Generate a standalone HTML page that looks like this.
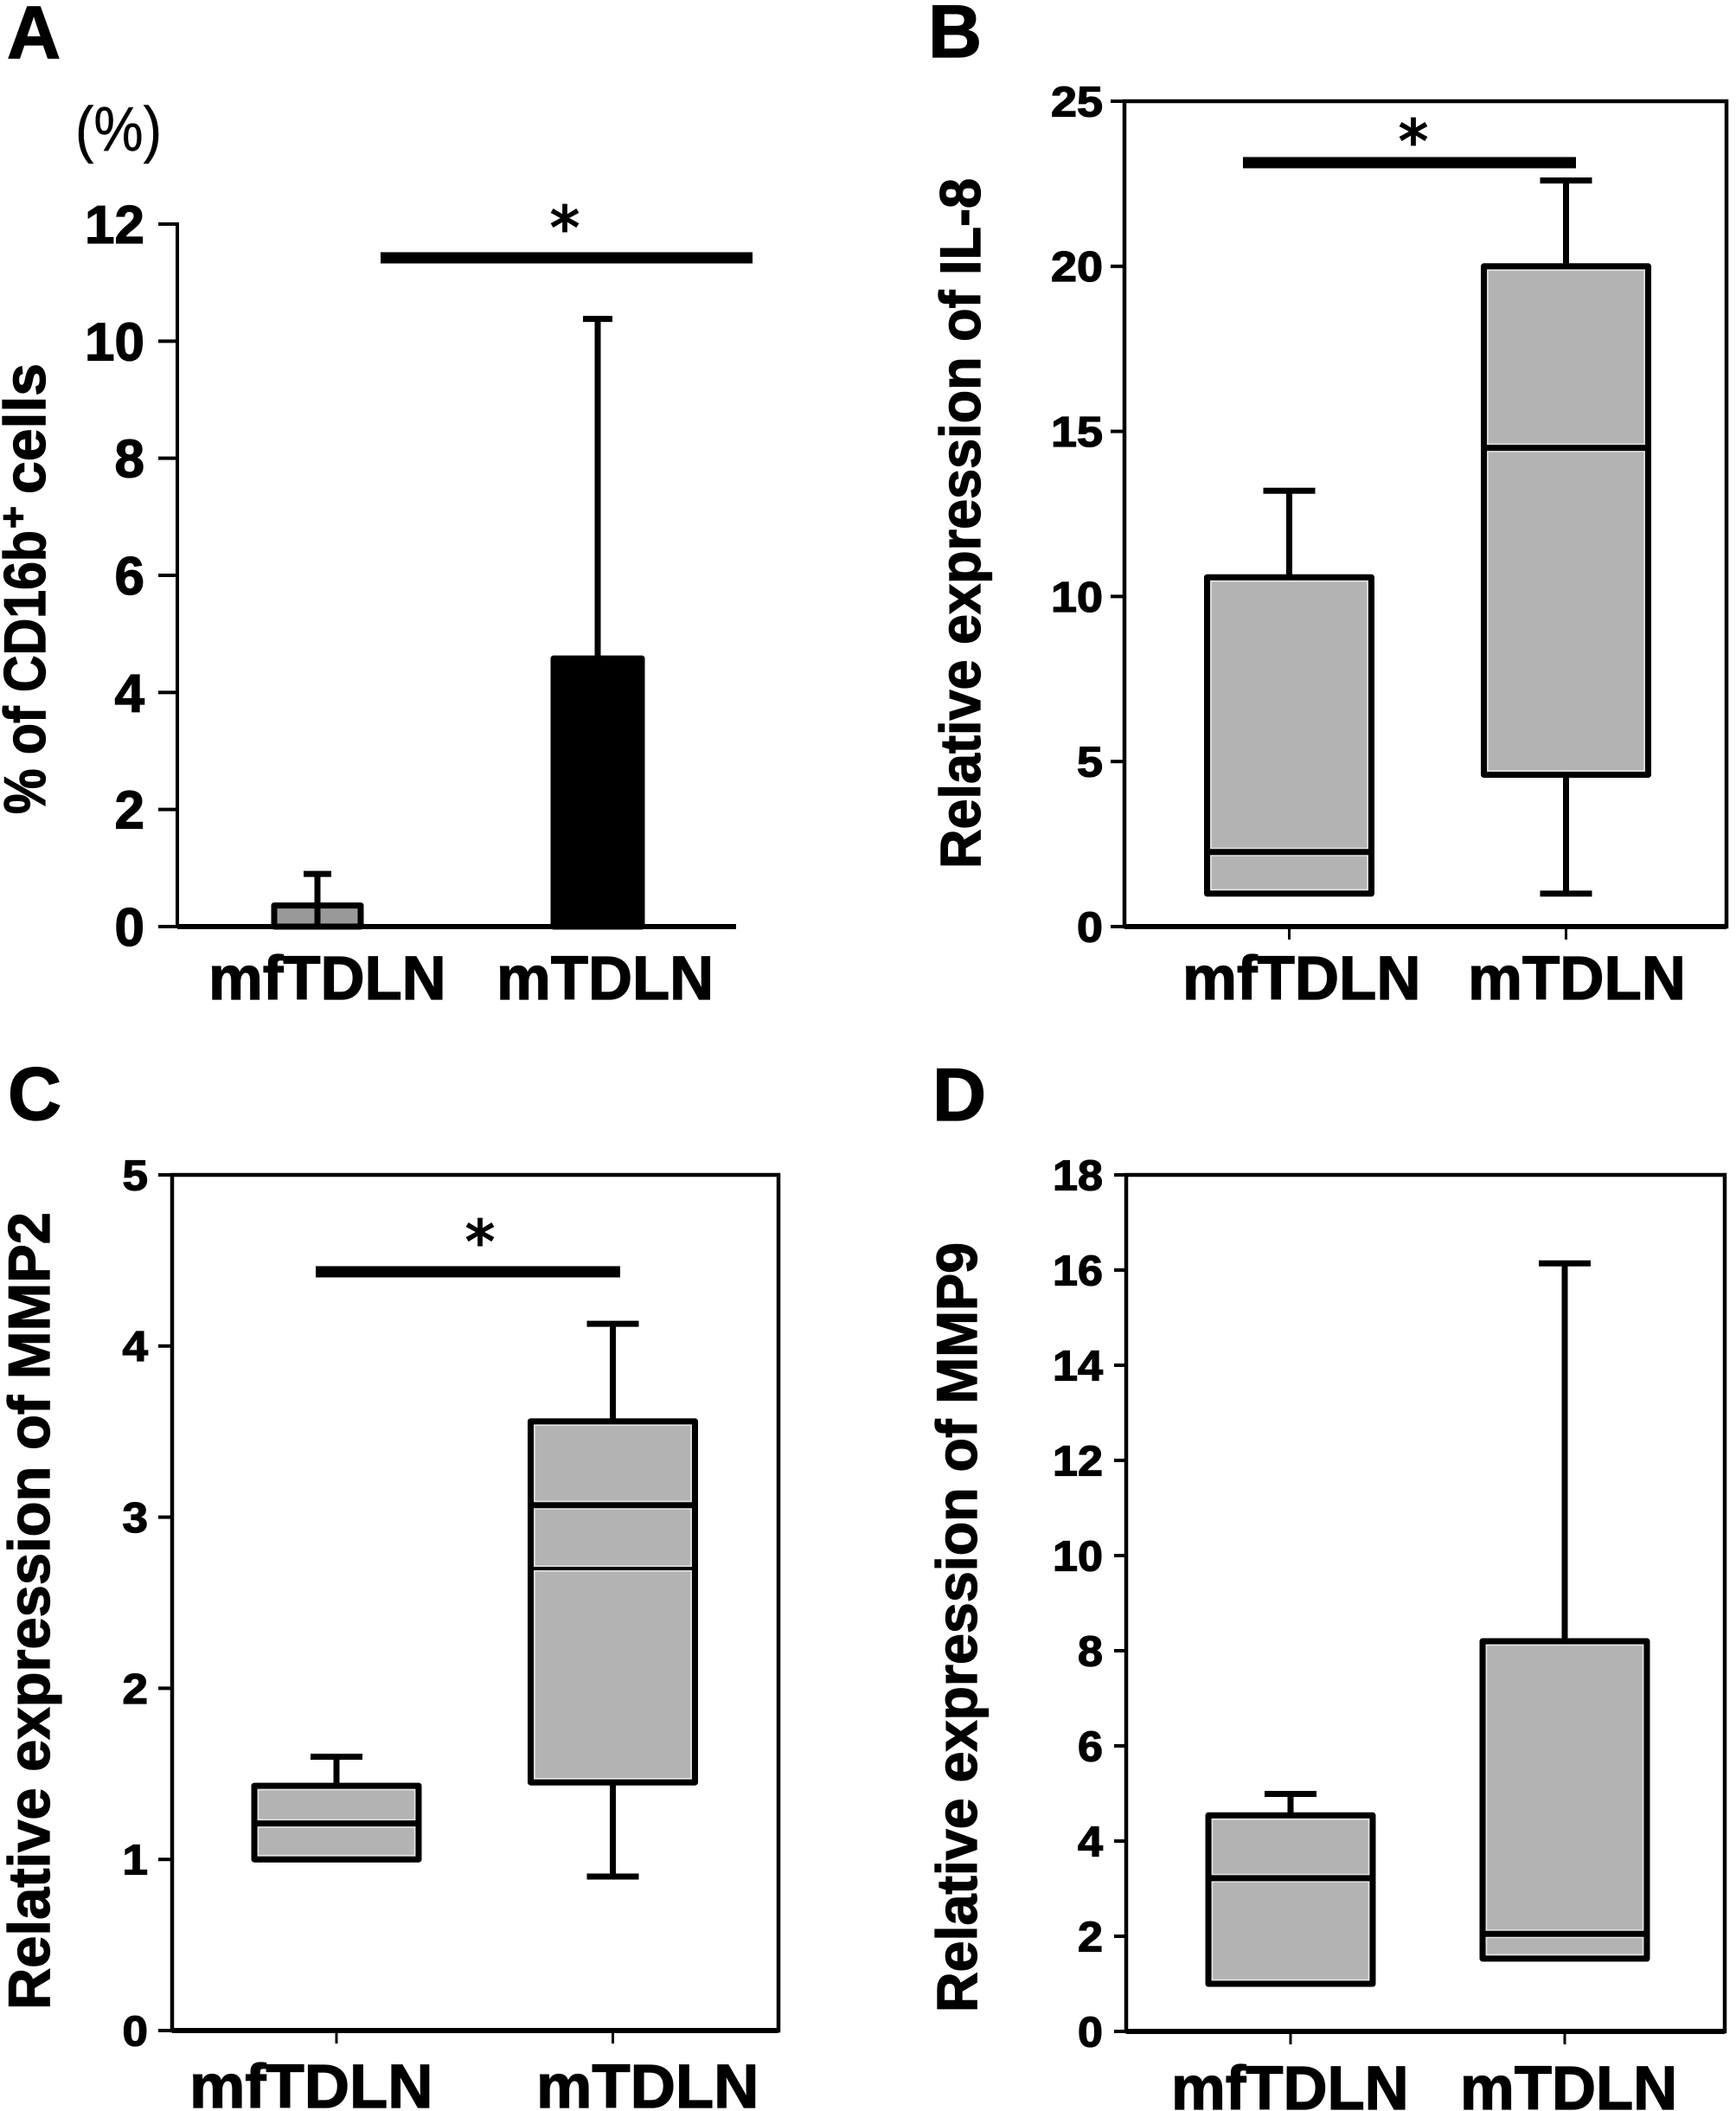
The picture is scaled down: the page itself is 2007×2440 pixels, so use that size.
<!DOCTYPE html>
<html lang="en">
<head>
<meta charset="utf-8">
<title>Four-panel figure: CD16b, IL-8, MMP2 and MMP9 in mfTDLN and mTDLN</title>
<style>
html,body{margin:0;padding:0;background:#fff;}
svg{display:block;}
text{font-family:"Liberation Sans",sans-serif;font-weight:700;fill:#000;stroke:#000;stroke-width:1.3px;}
</style>
</head>
<body>
<svg id="figure" xmlns="http://www.w3.org/2000/svg" width="2007" height="2440" viewBox="0 0 2007 2440">
  <rect x="0" y="0" width="2007" height="2440" fill="#fff"/>
  <text x="8" y="67" font-size="86">A</text>
  <text x="1073" y="66" font-size="86">B</text>
  <text x="9" y="1294" font-size="86">C</text>
  <text x="1078" y="1295" font-size="86">D</text>

  <text x="87" y="174" font-size="72" textLength="100" lengthAdjust="spacingAndGlyphs" style="font-weight:400;stroke-width:0.5px">(%)</text>

  <g transform="translate(52,941) rotate(-90)">
    <text x="0" y="0" font-size="68" textLength="328" lengthAdjust="spacingAndGlyphs">% of CD16b</text>
    <text x="330" y="-22" font-size="44" textLength="26" lengthAdjust="spacingAndGlyphs">+</text>
    <text x="370" y="0" font-size="68" textLength="151" lengthAdjust="spacingAndGlyphs">cells</text>
  </g>
  <text transform="translate(1133,1004) rotate(-90)" font-size="66" textLength="798" lengthAdjust="spacingAndGlyphs">Relative expression of IL-8</text>
  <text transform="translate(57,2323) rotate(-90)" font-size="68" textLength="922" lengthAdjust="spacingAndGlyphs">Relative expression of MMP2</text>
  <text transform="translate(1129,2326) rotate(-90)" font-size="66" textLength="890" lengthAdjust="spacingAndGlyphs">Relative expression of MMP9</text>
</svg>
<script>
// Shared category labels
const categories = ['mfTDLN', 'mTDLN'];

// Panel A: bars with upper error bars
const aTicks = [0, 2, 4, 6, 8, 10, 12];
const aMeans = [0.36, 4.58];
const aUpper = [0.9, 10.38];

// Panel B: IL-8 box plot
const bTicks = [0, 5, 10, 15, 20, 25];
const bLow = [1.0, 1.0];
const bQ1 = [1.0, 4.6];
const bMedian = [2.26, 14.5];
const bQ3 = [10.58, 20.0];
const bHigh = [13.2, 22.6];

// Panel C: MMP2 box plot
const cTicks = [0, 1, 2, 3, 4, 5];
const cLow = [1.0, 0.9];
const cQ1 = [1.0, 1.45];
const cMedian = [1.21, 3.07];
const cMean = [null, 2.7];
const cQ3 = [1.43, 3.56];
const cHigh = [1.6, 4.13];

// Panel D: MMP9 box plot
const dTicks = [0, 2, 4, 6, 8, 10, 12, 14, 16, 18];
const dLow = [1.0, 1.53];
const dQ1 = [1.0, 1.53];
const dMedian = [3.22, 2.05];
const dQ3 = [4.54, 8.2];
const dHigh = [4.99, 16.14];

const svg = document.getElementById('figure');
const NS = 'http://www.w3.org/2000/svg';

function mk(tag, attrs, parent) {
  const el = document.createElementNS(NS, tag);
  for (const k in attrs) el.setAttribute(k, attrs[k]);
  (parent || svg).appendChild(el);
  return el;
}
function seg(parent, x1, y1, x2, y2, w) {
  return mk('line', {x1, y1, x2, y2, stroke: '#000', 'stroke-width': w}, parent);
}
function makeY(p) {
  return v => p.bottom - (v / p.yMax) * (p.bottom - p.top);
}
function makeX(p) {
  return i => p.cx0 + i * p.step;
}

function drawYAxis(g, p, ticks, y) {
  ticks.forEach(t => {
    const tick = seg(g, p.tickLeft, y(t), p.left, y(t), 4);
    
    
    const label = mk('text', {
      x: p.tickRight - String(t).length * p.digitW,
      y: y(t) + p.tickFont * 0.355,
      'font-size': p.tickFont,
      textLength: String(t).length * p.digitW,
      lengthAdjust: 'spacingAndGlyphs'
    }, g);
    label.textContent = String(t);
    
    
  });
}

function drawXLabels(g, p) {
  categories.forEach((c, i) => {
    const label = mk('text', {
      x: p.labelX + i * p.labelStep,
      y: p.labelY,
      'font-size': 71
    }, g);
    label.textContent = c;
    const natural = label.getComputedTextLength();
    label.setAttribute('textLength', natural * p.labelStretch);
    label.setAttribute('lengthAdjust', 'spacingAndGlyphs');
    
    
  });
}

function drawSignificance(g, x1, x2, y, thick, starX, starY) {
  const bar = mk('rect', {x: x1, y: y - thick / 2, width: x2 - x1, height: thick, fill: '#000'}, g);
  
  
  const star = mk('text', {x: starX, y: starY + 37, 'font-size': 68, 'text-anchor': 'middle',
    style: 'font-family:"DejaVu Sans",sans-serif;font-weight:400;stroke-width:2px'}, g);
  star.textContent = '*';
  
  
}

function drawWhisker(g, cx, yFrom, yTo, capHalf) {
  const stem = seg(g, cx, yFrom, cx, yTo, 7);
  
  
  const cap = seg(g, cx - capHalf, yTo, cx + capHalf, yTo, 7);
  
  
}

function drawBoxes(g, p, y, x, low, q1, median, q3, high, mean) {
  categories.forEach((c, i) => {
    const cx = x(i);
    const hw = p.boxHalf;
    if (high[i] > q3[i]) drawWhisker(g, cx, y(q3[i]), y(high[i]), 30);
    if (low[i] < q1[i]) drawWhisker(g, cx, y(q1[i]), y(low[i]), 30);
    const box = mk('rect', {x: cx - hw, y: y(q3[i]), width: 2 * hw, height: y(q1[i]) - y(q3[i]),
      fill: '#b3b3b3', stroke: '#000', 'stroke-width': 7, 'stroke-linejoin': 'round'}, g);
    
    
    const inner = mk('rect', {x: cx - hw + 4.5, y: y(q3[i]) + 4.5, width: 2 * hw - 9,
      height: y(q1[i]) - y(q3[i]) - 9, fill: 'none', stroke: '#e4e4e4', 'stroke-width': 1.5}, g);
    
    
    const halo = seg(g, cx - hw + 4, y(median[i]), cx + hw - 4, y(median[i]), 10);
    halo.setAttribute('stroke', '#e4e4e4');
    
    
    const med = seg(g, cx - hw, y(median[i]), cx + hw, y(median[i]), 7);
    
    
    if (mean && mean[i] !== null) {
      const mh = seg(g, cx - hw + 4, y(mean[i]), cx + hw - 4, y(mean[i]), 7);
      mh.setAttribute('stroke', '#e4e4e4');
      
      
      const ml = seg(g, cx - hw, y(mean[i]), cx + hw, y(mean[i]), 4);
      
      
    }
    const tk = seg(g, cx, p.bottom, cx, p.bottom + 15, 3);
    
    
  });
}

function drawFrame(g, p) {
  const frame = mk('rect', {x: p.left, y: p.top, width: p.right - p.left, height: p.bottom - p.top,
    fill: 'none', stroke: '#000', 'stroke-width': 4.5}, g);
  
  
  const base = seg(g, p.left, p.bottom, p.right, p.bottom, 6);
  
  
}

/* Panel A */
(function () {
  const p = {left: 205, right: 851, top: 259, bottom: 1071, yMax: 12, cx0: 367, step: 324,
    tickLeft: 183, tickRight: 167, tickFont: 62, digitW: 34.5,
    labelX: 241, labelStep: 333, labelY: 1155, labelStretch: 0.995};
  const g = mk('g', {});
  
  
  const y = makeY(p), x = makeX(p);
  const yAxis = seg(g, p.left, p.top - 2, p.left, p.bottom, 4);
  
  
  drawYAxis(g, p, aTicks, y);
  categories.forEach((c, i) => {
    const cx = x(i);
    const bar = mk('rect', {x: cx - (i === 0 ? 50 : 51), y: y(aMeans[i]), width: i === 0 ? 100 : 102, height: y(0) - y(aMeans[i]),
      fill: i === 0 ? '#999' : '#000', stroke: '#000', 'stroke-width': 7, 'stroke-linejoin': 'round'}, g);
    
    
    drawWhisker(g, cx, y(0), y(aUpper[i]), i === 0 ? 16 : 17);
  });
  const base = seg(g, p.left, p.bottom, p.right, p.bottom, 6);
  
  
  drawXLabels(g, p);
  drawSignificance(g, 440, 870, 298, 13, 653, 250);
})();

/* Panel B */
(function () {
  const p = {left: 1300, right: 1996, top: 117, bottom: 1071, yMax: 25, cx0: 1490.5, step: 320, boxHalf: 95,
    tickLeft: 1284, tickRight: 1275, tickFont: 49, digitW: 30,
    labelX: 1367, labelStep: 330, labelY: 1155, labelStretch: 0.998};
  const g = mk('g', {});
  
  
  const y = makeY(p), x = makeX(p);
  drawFrame(g, p);
  drawYAxis(g, p, bTicks, y);
  drawBoxes(g, p, y, x, bLow, bQ1, bMedian, bQ3, bHigh, null);
  drawXLabels(g, p);
  drawSignificance(g, 1437, 1822, 188, 13, 1634, 150);
})();

/* Panel C */
(function () {
  const p = {left: 199, right: 900, top: 1358, bottom: 2347, yMax: 5, cx0: 389, step: 319.5, boxHalf: 95,
    tickLeft: 183, tickRight: 171, tickFont: 49, digitW: 29.5,
    labelX: 219, labelStep: 401, labelY: 2436, labelStretch: 1.02};
  const g = mk('g', {});
  
  
  const y = makeY(p), x = makeX(p);
  drawFrame(g, p);
  drawYAxis(g, p, cTicks, y);
  drawBoxes(g, p, y, x, cLow, cQ1, cMedian, cQ3, cHigh, cMean);
  drawXLabels(g, p);
  drawSignificance(g, 365, 717, 1470, 13, 555, 1422);
})();

/* Panel D */
(function () {
  const p = {left: 1302, right: 1994, top: 1358, bottom: 2348, yMax: 18, cx0: 1492, step: 317, boxHalf: 95,
    tickLeft: 1288, tickRight: 1275, tickFont: 49, digitW: 29,
    labelX: 1354, labelStep: 334, labelY: 2438, labelStretch: 0.995};
  const g = mk('g', {});
  
  
  const y = makeY(p), x = makeX(p);
  drawFrame(g, p);
  drawYAxis(g, p, dTicks, y);
  drawBoxes(g, p, y, x, dLow, dQ1, dMedian, dQ3, dHigh, null);
  drawXLabels(g, p);
})();
</script>
</body>
</html>
